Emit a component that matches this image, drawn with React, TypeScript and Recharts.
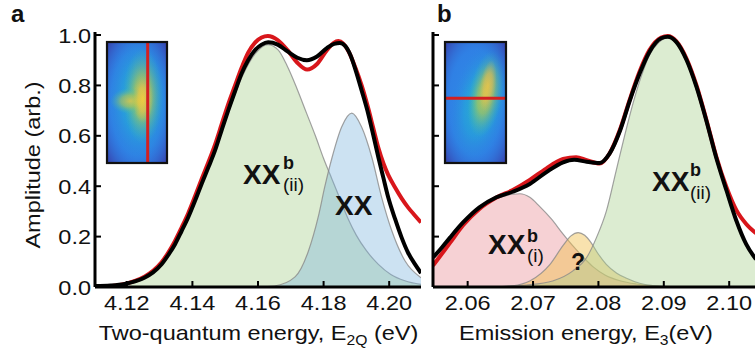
import React from 'react';
import { ComposedChart, Line, Area, XAxis, YAxis } from 'recharts';

const FONT = '"Liberation Sans", Arial, Helvetica, sans-serif';
const SX = 1.12;

// ---------- shared ----------
const yTicks = [0, 0.2, 0.4, 0.6, 0.8, 1.0];
const yDomain = [0, 1.012];

// ---------- panel a : two-quantum energy ----------
const aTicks = [4.12, 4.14, 4.16, 4.18, 4.2];
const aDomain = [4.1103, 4.2097];

const aFitE = [4.1103, 4.115, 4.1194, 4.1225, 4.1255, 4.128, 4.1306, 4.1327, 4.1347, 4.1367, 4.1387, 4.1408, 4.1428, 4.1449, 4.1469, 4.1489, 4.1509, 4.153, 4.155, 4.157, 4.1591, 4.1611, 4.1631, 4.166, 4.169, 4.172, 4.1749, 4.178, 4.181, 4.1832, 4.185, 4.1865, 4.1882, 4.1899, 4.1916, 4.1936, 4.1952, 4.1967, 4.1982, 4.1997, 4.2018, 4.2038, 4.2058, 4.2079, 4.2097];
const aFitV = [0.004, 0.006, 0.012, 0.022, 0.038, 0.058, 0.09, 0.128, 0.17, 0.222, 0.276, 0.342, 0.409, 0.476, 0.542, 0.622, 0.7, 0.777, 0.847, 0.9, 0.94, 0.962, 0.971, 0.962, 0.935, 0.91, 0.9, 0.915, 0.948, 0.965, 0.968, 0.958, 0.92, 0.855, 0.78, 0.688, 0.6, 0.515, 0.435, 0.356, 0.27, 0.196, 0.135, 0.09, 0.055];

const aDatE = [4.1103, 4.115, 4.1194, 4.1225, 4.1255, 4.128, 4.1306, 4.1327, 4.1347, 4.1367, 4.1387, 4.1408, 4.1428, 4.1449, 4.1469, 4.1489, 4.1509, 4.153, 4.155, 4.157, 4.1591, 4.1611, 4.163, 4.166, 4.169, 4.172, 4.175, 4.178, 4.181, 4.183, 4.1845, 4.186, 4.1878, 4.1897, 4.1916, 4.1936, 4.1952, 4.1967, 4.1982, 4.1997, 4.2018, 4.2038, 4.2058, 4.2079, 4.2097];
const aDatV = [0.0, 0.003, 0.012, 0.024, 0.042, 0.064, 0.098, 0.138, 0.183, 0.236, 0.292, 0.36, 0.428, 0.496, 0.565, 0.645, 0.725, 0.8, 0.87, 0.93, 0.97, 0.99, 0.996, 0.98, 0.94, 0.89, 0.863, 0.885, 0.94, 0.968, 0.976, 0.966, 0.93, 0.87, 0.8, 0.71, 0.628, 0.552, 0.492, 0.445, 0.395, 0.352, 0.315, 0.283, 0.256];

const aXXbE = [4.1103, 4.116, 4.1204, 4.1255, 4.1306, 4.1347, 4.1387, 4.1428, 4.1469, 4.1509, 4.155, 4.1591, 4.163, 4.1662, 4.1688, 4.1718, 4.1748, 4.1775, 4.18, 4.1825, 4.185, 4.1875, 4.19, 4.193, 4.1967, 4.2005, 4.2048, 4.2097];
const aXXbV = [0.001, 0.004, 0.012, 0.036, 0.088, 0.168, 0.274, 0.405, 0.54, 0.69, 0.83, 0.925, 0.962, 0.94, 0.88, 0.79, 0.69, 0.6, 0.51, 0.43, 0.35, 0.27, 0.205, 0.145, 0.09, 0.05, 0.025, 0.01];

const aXXE = [4.16, 4.165, 4.1713, 4.1753, 4.1784, 4.1804, 4.1825, 4.1855, 4.1886, 4.1916, 4.1947, 4.1977, 4.2008, 4.2048, 4.2097];
const aXXV = [0.0, 0.004, 0.04, 0.14, 0.28, 0.4, 0.51, 0.635, 0.69, 0.635, 0.515, 0.356, 0.223, 0.104, 0.037];

// ---------- panel b : emission energy ----------
const bTicks = [2.06, 2.07, 2.08, 2.09, 2.1];
const bDomain = [2.0547, 2.1041];

const bFitE = [2.0547, 2.056, 2.0573, 2.0593, 2.0618, 2.0644, 2.0669, 2.0695, 2.072, 2.0746, 2.0763, 2.0782, 2.0802, 2.0817, 2.0833, 2.0848, 2.0863, 2.0878, 2.0896, 2.0906, 2.0919, 2.0935, 2.095, 2.0965, 2.098, 2.0996, 2.1011, 2.1026, 2.1041];
const bFitV = [0.117, 0.155, 0.196, 0.256, 0.316, 0.356, 0.378, 0.409, 0.455, 0.495, 0.505, 0.497, 0.492, 0.529, 0.62, 0.74, 0.847, 0.933, 0.987, 0.993, 0.973, 0.9, 0.794, 0.661, 0.515, 0.382, 0.263, 0.17, 0.11];

const bDatE = [2.0547, 2.056, 2.0573, 2.0593, 2.0618, 2.0644, 2.0669, 2.0695, 2.072, 2.0746, 2.0766, 2.0782, 2.0802, 2.0817, 2.0833, 2.0848, 2.0863, 2.0878, 2.0896, 2.0906, 2.0919, 2.0935, 2.095, 2.0965, 2.098, 2.0996, 2.1011, 2.1026, 2.1041];
const bDatV = [0.085, 0.13, 0.175, 0.245, 0.31, 0.355, 0.385, 0.425, 0.47, 0.508, 0.515, 0.503, 0.49, 0.53, 0.625, 0.745, 0.855, 0.94, 0.99, 0.996, 0.976, 0.905, 0.8, 0.665, 0.52, 0.395, 0.305, 0.25, 0.213];

const bXXbiE = [2.0547, 2.0573, 2.0593, 2.0618, 2.0644, 2.0669, 2.068, 2.0695, 2.071, 2.0728, 2.0746, 2.0762, 2.0778, 2.0792, 2.081, 2.0833, 2.0858, 2.0883, 2.092];
const bXXbiV = [0.117, 0.196, 0.256, 0.31, 0.35, 0.368, 0.37, 0.356, 0.32, 0.27, 0.21, 0.16, 0.115, 0.08, 0.048, 0.025, 0.012, 0.005, 0.0];

const bQE = [2.064, 2.0669, 2.0695, 2.0726, 2.0746, 2.0758, 2.0769, 2.0779, 2.0789, 2.08, 2.0812, 2.0828, 2.0843, 2.0863, 2.0883, 2.095];
const bQV = [0.0, 0.005, 0.024, 0.09, 0.165, 0.203, 0.216, 0.205, 0.175, 0.13, 0.09, 0.055, 0.035, 0.015, 0.006, 0.0];

const bXXbiiE = [2.062, 2.066, 2.069, 2.073, 2.0761, 2.0782, 2.0797, 2.0812, 2.0827, 2.084, 2.0853, 2.0866, 2.0878, 2.0892, 2.0906, 2.0919, 2.0935, 2.095, 2.0965, 2.098, 2.0996, 2.1011, 2.1026, 2.1041];
const bXXbiiV = [0.0, 0.003, 0.008, 0.024, 0.064, 0.117, 0.196, 0.3, 0.46, 0.6, 0.73, 0.84, 0.92, 0.97, 0.99, 0.973, 0.9, 0.794, 0.661, 0.515, 0.382, 0.263, 0.17, 0.11];

const zip = (es: number[], vs: number[]) => es.map((e, i) => ({ e, v: vs[i] }));

// ---------- styles ----------
const GREEN = '#a8d08d';
const BLUE = '#79b4dc';
const PINK = '#e57c84';
const YELLOW = '#f0bf4c';
const EDGE = '#8a8a8a';
const RED = '#d8161b';

// ---------- tick components ----------
function BottomTick(props: any) {
  const { x, y, payload, showLabel } = props;
  return (
    <g>
      <line x1={x} y1={y} x2={x} y2={y - 6} stroke="#000" strokeWidth={2} />
      {showLabel && (
        <text transform={`translate(${x},${y + 23}) scale(${SX},1)`} textAnchor="middle" fontSize={21} fontFamily={FONT} fill="#111">
          {Number(payload.value).toFixed(2)}
        </text>
      )}
    </g>
  );
}
function TopTick(props: any) {
  const { x, y } = props;
  return <line x1={x} y1={y} x2={x} y2={y + 6} stroke="#000" strokeWidth={2} />;
}
function LeftTick(props: any) {
  const { x, y, payload, showLabel } = props;
  return (
    <g>
      <line x1={x} y1={y} x2={x + 6} y2={y} stroke="#000" strokeWidth={2} />
      {showLabel && (
        <text transform={`translate(${x - 4},${y + 7.5}) scale(${SX},1)`} textAnchor="end" fontSize={21} fontFamily={FONT} fill="#111">
          {Number(payload.value).toFixed(1)}
        </text>
      )}
    </g>
  );
}
function RightTick(props: any) {
  const { x, y } = props;
  return <line x1={x} y1={y} x2={x - 6} y2={y} stroke="#000" strokeWidth={2} />;
}

const AX = { stroke: '#000', strokeWidth: 3 };

function Frame({ xTicks, xDomain, yWidth, showY }: any) {
  return [
    <XAxis key="xb" xAxisId={0} dataKey="e" type="number" domain={xDomain} ticks={xTicks} allowDataOverflow interval={0}
      tickSize={0} tickMargin={0} tickLine={false} axisLine={AX} height={68} tick={<BottomTick showLabel />} />,
    <XAxis key="xt" xAxisId="top" orientation="top" dataKey="e" type="number" domain={xDomain} ticks={xTicks} allowDataOverflow interval={0}
      tickSize={0} tickMargin={0} tickLine={false} axisLine={AX} height={0} tick={<TopTick />} />,
    <YAxis key="yl" yAxisId={0} type="number" domain={yDomain} ticks={yTicks} allowDataOverflow interval={0}
      tickSize={0} tickMargin={0} tickLine={false} axisLine={AX} width={yWidth} tick={<LeftTick showLabel={showY} />} />,
    <YAxis key="yr" yAxisId="right" orientation="right" type="number" domain={yDomain} ticks={yTicks} allowDataOverflow interval={0}
      tickSize={0} tickMargin={0} tickLine={false} axisLine={AX} width={0} tick={<RightTick />} />,
  ];
}

function Inset({ x, y, w, h, id, vertical, lineAt, blobs }: any) {
  return (
    <g>
      <defs>
        <clipPath id={`clip-${id}`}>
          <rect x={x} y={y} width={w} height={h} />
        </clipPath>
        <radialGradient id={`edge-${id}`} cx="50%" cy="50%" r="72%">
          <stop offset="0%" stopColor="#2f8fe6" stopOpacity={0} />
          <stop offset="60%" stopColor="#3070e0" stopOpacity={0.25} />
          <stop offset="100%" stopColor="#3a2f9a" stopOpacity={0.9} />
        </radialGradient>
        <radialGradient id={`halo-${id}`}>
          <stop offset="0%" stopColor="#30c0b8" stopOpacity={0.95} />
          <stop offset="55%" stopColor="#22aed6" stopOpacity={0.6} />
          <stop offset="100%" stopColor="#2a90e0" stopOpacity={0} />
        </radialGradient>
        <radialGradient id={`mid-${id}`}>
          <stop offset="0%" stopColor="#d9c94a" stopOpacity={0.95} />
          <stop offset="45%" stopColor="#9ec562" stopOpacity={0.85} />
          <stop offset="100%" stopColor="#3cbcb0" stopOpacity={0} />
        </radialGradient>
        <radialGradient id={`core-${id}`}>
          <stop offset="0%" stopColor="#fbcf36" stopOpacity={1} />
          <stop offset="50%" stopColor="#eec940" stopOpacity={0.75} />
          <stop offset="100%" stopColor="#c8c850" stopOpacity={0} />
        </radialGradient>
      </defs>
      <g clipPath={`url(#clip-${id})`}>
        <rect x={x} y={y} width={w} height={h} fill="#2f86e6" />
        {blobs.map((b: any, i: number) => (
          <ellipse key={i} cx={b.cx} cy={b.cy} rx={b.rx} ry={b.ry} transform={`rotate(${b.rot || 0},${b.cx},${b.cy})`}
            fill={`url(#${b.kind}-${id})`} />
        ))}
        <rect x={x} y={y} width={w} height={h} fill={`url(#edge-${id})`} />
        {vertical ? (
          <line x1={lineAt} y1={y} x2={lineAt} y2={y + h} stroke="#d42020" strokeWidth={3} />
        ) : (
          <line x1={x} y1={lineAt} x2={x + w} y2={lineAt} stroke="#d42020" strokeWidth={3} />
        )}
      </g>
      <rect x={x} y={y} width={w} height={h} fill="none" stroke="#111" strokeWidth={2.2} />
    </g>
  );
}

const T = { fontFamily: FONT, fill: '#111' };

export default function App() {
  return (
    <div style={{ position: 'absolute', left: 0, top: 0, width: 755, height: 355, overflow: 'hidden', background: '#fff' }}>
      <div style={{ position: 'absolute', left: 0, top: 0 }}>
        <ComposedChart width={430} height={355} margin={{ top: 32, right: 9, bottom: 0, left: 0 }}>
          {Frame({ xTicks: aTicks, xDomain: aDomain, yWidth: 95, showY: true })}
          <Area data={zip(aXXbE, aXXbV)} dataKey="v" type="monotone" fill={GREEN} fillOpacity={0.4} stroke={EDGE} strokeWidth={1.2} strokeOpacity={0.8} isAnimationActive={false} />
          <Area data={zip(aXXE, aXXV)} dataKey="v" type="monotone" fill={BLUE} fillOpacity={0.38} stroke={EDGE} strokeWidth={1.2} strokeOpacity={0.8} isAnimationActive={false} />
          <Line data={zip(aDatE, aDatV)} dataKey="v" type="monotone" stroke={RED} strokeWidth={4} dot={false} isAnimationActive={false} />
          <Line data={zip(aFitE, aFitV)} dataKey="v" type="monotone" stroke="#000" strokeWidth={4} dot={false} isAnimationActive={false} />
        </ComposedChart>
      </div>
      <div style={{ position: 'absolute', left: 425, top: 0 }}>
        <ComposedChart width={331} height={355} margin={{ top: 32, right: 0, bottom: 0, left: 0 }}>
          {Frame({ xTicks: bTicks, xDomain: bDomain, yWidth: 8, showY: false })}
          <Area data={zip(bXXbiE, bXXbiV)} dataKey="v" type="monotone" fill={PINK} fillOpacity={0.35} stroke={EDGE} strokeWidth={1.2} strokeOpacity={0.8} isAnimationActive={false} />
          <Area data={zip(bQE, bQV)} dataKey="v" type="monotone" fill={YELLOW} fillOpacity={0.45} stroke={EDGE} strokeWidth={1.2} strokeOpacity={0.8} isAnimationActive={false} />
          <Area data={zip(bXXbiiE, bXXbiiV)} dataKey="v" type="monotone" fill={GREEN} fillOpacity={0.4} stroke={EDGE} strokeWidth={1.2} strokeOpacity={0.8} isAnimationActive={false} />
          <Line data={zip(bDatE, bDatV)} dataKey="v" type="monotone" stroke={RED} strokeWidth={4} dot={false} isAnimationActive={false} />
          <Line data={zip(bFitE, bFitV)} dataKey="v" type="monotone" stroke="#000" strokeWidth={4} dot={false} isAnimationActive={false} />
        </ComposedChart>
      </div>
      <svg style={{ position: 'absolute', left: 0, top: 0 }} width={755} height={355}>
        {/* panel letters */}
        <text x={11} y={22} fontSize={24} fontWeight="bold" {...T}>a</text>
        <text x={437} y={22} fontSize={24} fontWeight="bold" {...T}>b</text>

        {/* axis titles */}
        <text transform={`translate(40,165) rotate(-90) scale(${SX},1)`} textAnchor="middle" fontSize={21} {...T}>Amplitude (arb.)</text>
        <text transform={`translate(258.5,340) scale(${SX},1)`} textAnchor="middle" fontSize={21} {...T}>
          Two-quantum energy, E<tspan fontSize={14} dy={5}>2Q</tspan><tspan dy={-5}> (eV)</tspan>
        </text>
        <text transform={`translate(586,340) scale(${SX},1)`} textAnchor="middle" fontSize={21} {...T}>
          Emission energy, E<tspan fontSize={14} dy={5}>3</tspan><tspan dy={-5}>(eV)</tspan>
        </text>

        {/* peak labels */}
        <text x={243} y={183.5} fontSize={28} fontWeight="bold" {...T}>XX</text>
        <text x={283} y={168.5} fontSize={18} fontWeight="bold" {...T}>b</text>
        <text x={283} y={191} fontSize={19} {...T}>(ii)</text>
        <text x={335} y={215} fontSize={28} fontWeight="bold" {...T}>XX</text>

        <text x={488} y={253.5} fontSize={28} fontWeight="bold" {...T}>XX</text>
        <text x={527} y={242} fontSize={18} fontWeight="bold" {...T}>b</text>
        <text x={527} y={262} fontSize={19} {...T}>(i)</text>
        <text x={571} y={270} fontSize={23} fontWeight="bold" {...T}>?</text>

        <text x={652} y={191} fontSize={28} fontWeight="bold" {...T}>XX</text>
        <text x={690} y={176} fontSize={18} fontWeight="bold" {...T}>b</text>
        <text x={690} y={198.5} fontSize={19} {...T}>(ii)</text>

        {/* insets */}
        <Inset id="ia" x={107} y={42} w={60} h={121} vertical lineAt={147.7}
          blobs={[
            { kind: 'halo', cx: 140, cy: 98, rx: 34, ry: 68 },
            { kind: 'mid', cx: 143, cy: 96, rx: 20, ry: 48 },
            { kind: 'mid', cx: 130, cy: 101, rx: 20, ry: 13 },
            { kind: 'core', cx: 143, cy: 99, rx: 10, ry: 24 },
          ]} />
        <Inset id="ib" x={445} y={42} w={61} h={121} vertical={false} lineAt={98.3}
          blobs={[
            { kind: 'halo', cx: 482, cy: 102, rx: 30, ry: 64, rot: 14 },
            { kind: 'mid', cx: 486, cy: 94, rx: 17, ry: 44, rot: 10 },
            { kind: 'core', cx: 488, cy: 86, rx: 8, ry: 26, rot: 8 },
          ]} />
      </svg>
    </div>
  );
}
